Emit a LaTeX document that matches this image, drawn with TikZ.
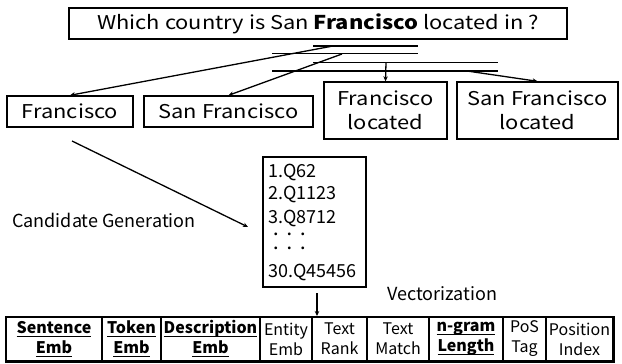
\documentclass[tikz,border=0pt]{standalone}
\usepackage{fontspec}
\setmainfont{Noto Sans CJK JP}
\newfontfamily\widefont{Noto Sans CJK JP}[FakeStretch=1.15]
\usetikzlibrary{arrows.meta}
\newcommand\ulx[1]{\setbox0\hbox{#1}\rlap{\rule[-3.5pt]{\wd0}{1.3pt}}\box0}
\tikzset{
  box/.style={draw, line width=1.4pt, inner sep=0pt},
  arr/.style={line width=1.3pt, -{Stealth[length=5pt,width=4.5pt]}},
  span/.style={line width=1.4pt},
  cell/.style={draw, line width=1.2pt, inner sep=0pt, minimum height=44pt, align=center, font=\fontsize{16}{20}\selectfont},
  big/.style={font=\widefont\fontsize{19}{24}\selectfont},
  mid/.style={font=\fontsize{18}{22}\selectfont},
  dots/.style={font=\fontsize{13.5}{16}\selectfont},
}
\begin{document}
\begin{tikzpicture}[x=1pt,y=-1pt]
\useasboundingbox (0,0) rectangle (622,364);
% question
\node[box, big, minimum width=498pt, minimum height=31pt] (q) at (318,23.5) {Which country is San \textbf{Francisco} located in ?};
% spans
\coordinate (a1) at (313,46); \coordinate (b1) at (418,46);
\coordinate (a2) at (272,53.5); \coordinate (b2) at (418,53.5);
\coordinate (a3) at (313,62.5); \coordinate (b3) at (498,62.5);
\coordinate (a4) at (272,71); \coordinate (b4) at (498,71);
\draw[span] (a1) -- (b1);
\draw[span] (a2) -- (b2);
\draw[span] (a3) -- (b3);
\draw[span] (a4) -- (b4);
% candidates
\node[box, big, minimum width=126pt, minimum height=31pt] (fr) at (70,111.5) {Francisco};
\node[box, big, minimum width=169pt, minimum height=31pt] (sf) at (228.5,111.5) {San Francisco};
\node[box, big, minimum width=123pt, minimum height=57pt, align=center] (frl) at (385.5,110.5) {Francisco\\located};
\node[box, big, minimum width=161pt, minimum height=57pt, align=center] (sfl) at (537.5,110.5) {San Francisco\\located};
\coordinate (s1) at (333,46);
\coordinate (s2) at (342,54);
\coordinate (s3) at (386,62.5);
\coordinate (s4) at (467,71);
\draw[arr] (s1) -- (fr.north);
\draw[arr] (s2) -- (sf.north);
\draw[arr] (s3) -- (frl.north);
\draw[arr] (s4) -- (sfl.north);
% candidate list
\node[box, minimum width=103pt, minimum height=130pt] (cand) at (314.5,222) {};
\node[mid, anchor=base west, inner sep=0pt] (c1) at (268,177.5) {1.Q62};
\node[mid, anchor=base west, inner sep=0pt] (c2) at (268,199.5) {2.Q1123};
\node[mid, anchor=base west, inner sep=0pt] (c3) at (268,223) {3.Q8712};
\node[dots, anchor=base west, inner sep=0pt] (c4) at (269,239) {・・・};
\node[dots, anchor=base west, inner sep=0pt] (c5) at (269,253) {・・・};
\node[mid, anchor=base west, inner sep=0pt] (c6) at (268,277.5) {30.Q45456};
\coordinate (g1) at (72,141);
\coordinate (g2) at (248,227);
\draw[arr] (g1) -- (g2);
\node[mid, anchor=west, inner sep=0pt] (cg) at (12,220) {Candidate Generation};
% vectorization
\coordinate (v1) at (317,293);
\coordinate (v2) at (317,316);
\draw[arr] (v1) -- (v2);
\node[mid, anchor=west, inner sep=0pt] (vec) at (387,294) {Vectorization};
% table
\node[cell, minimum width=96pt] (t1) at (54,339) {\textbf{\ulx{Sentence}}\\\textbf{\ulx{Emb}}};
\node[cell, minimum width=59pt] (t2) at (131.5,339) {\textbf{\ulx{Token}}\\\textbf{\ulx{Emb}}};
\node[cell, minimum width=99pt] (t3) at (210.5,339) {\textbf{\ulx{Description}}\\\textbf{\ulx{Emb}}};
\node[cell, minimum width=52pt] (t4) at (286,339) {Entity\\Emb};
\node[cell, minimum width=55pt] (t5) at (339.5,339) {Text\\Rank};
\node[cell, minimum width=62pt] (t6) at (398,339) {Text\\Match};
\node[cell, minimum width=74pt] (t7) at (466,339) {\textbf{\ulx{n-gram}}\\\textbf{\ulx{Length}}};
\node[cell, minimum width=43pt] (t8) at (524.5,339) {PoS\\Tag};
\node[cell, minimum width=67pt] (t9) at (579.5,339) {Position\\Index};
\draw[line width=1.8pt] (t1.north west) rectangle (t9.south east);
\end{tikzpicture}
\end{document}
